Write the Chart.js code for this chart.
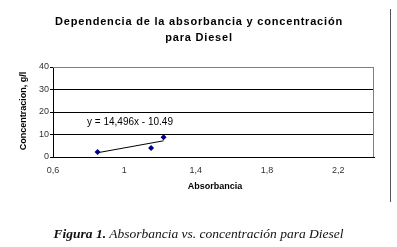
<!DOCTYPE html>
<html lang="es">
<head>
<meta charset="UTF-8">
<title>Absorbancia vs. concentración para Diesel</title>
<script src="https://cdn.jsdelivr.net/npm/chart.js"></script>
<style>
    body { margin: 0; background: #fff; }
    #caja { position: relative; width: 397px; height: 247px; }
    #grafico { position: absolute; left: 0; top: 0; }
    .pie {
        position: absolute; left: 0; width: 397px; top: 226px;
        text-align: center; font-family: "Liberation Serif", "DejaVu Serif", serif;
        font-style: italic; font-size: 13.5px; color: #111;
    }
</style>
</head>
<body>
<div id="caja">
    <canvas id="grafico" width="397" height="247"></canvas>
    <div class="pie"><b>Figura 1.</b> Absorbancia vs. concentración para Diesel</div>
</div>

<script>
    // datos
    const absorbancia = [0.85, 1.15, 1.22];
    const concentracion = [2.2, 4.0, 8.8];
    const tendenciaX = [0.85, 1.22];
    const tendenciaY = [1.9, 7.2];
    const ticksY = [0, 10, 20, 30, 40];
    const etiquetasX = ['0,6', '1', '1,4', '1,8', '2,2'];

    const puntos = absorbancia.map((x, i) => ({ x: x, y: concentracion[i] }));
    const linea = tendenciaX.map((x, i) => ({ x: x, y: tendenciaY[i] }));

    const textos = {
        id: 'textos',
        afterDatasetsDraw(chart) {
            const ctx = chart.ctx;
            const a = chart.chartArea;
            ctx.save();
            // borde del area de trazado (arriba y derecha)
            ctx.strokeStyle = '#808080';
            ctx.lineWidth = 1;
            ctx.beginPath();
            ctx.moveTo(a.left, a.top + 0.5);
            ctx.lineTo(a.right - 0.5, a.top + 0.5);
            ctx.lineTo(a.right - 0.5, a.bottom);
            ctx.stroke();
            // borde derecho del grafico
            ctx.strokeStyle = '#555';
            ctx.beginPath();
            ctx.moveTo(390.5, 9);
            ctx.lineTo(390.5, 202);
            ctx.stroke();

            ctx.fillStyle = '#000';
            ctx.textAlign = 'center';
            ctx.textBaseline = 'middle';
            ctx.font = 'bold 11px "Liberation Sans", Arial, sans-serif';
            ctx.letterSpacing = '0.8px';
            ctx.fillText('Dependencia de la absorbancia y concentración', 199, 22);
            ctx.fillText('para Diesel', 199, 38);
            ctx.letterSpacing = '0px';

            ctx.font = 'bold 9px "Liberation Sans", Arial, sans-serif';
            ctx.fillText('Absorbancia', 215, 187);
            ctx.save();
            ctx.translate(24, 111);
            ctx.rotate(-Math.PI / 2);
            ctx.fillText('Concentracion, g/l', 0, 0);
            ctx.restore();

            // ecuacion de la linea de tendencia
            ctx.font = '10px "Liberation Sans", Arial, sans-serif';
            ctx.fillStyle = '#fff';
            ctx.fillRect(83, 115, 94, 14);
            ctx.fillStyle = '#000';
            ctx.fillText('y = 14,496x - 10.49', 130, 122);
            ctx.restore();
        }
    };

    new Chart(document.getElementById('grafico'), {
        type: 'scatter',
        data: {
            datasets: [{
                data: puntos,
                pointStyle: 'rectRot',
                pointRadius: 3,
                backgroundColor: '#000080',
                borderColor: '#000080',
                borderWidth: 0
            }, {
                data: linea,
                showLine: true,
                borderColor: '#000',
                borderWidth: 1,
                pointRadius: 0
            }]
        },
        options: {
            responsive: false,
            animation: false,
            layout: { padding: { left: 0, top: 67, right: 23, bottom: 70 } },
            plugins: { legend: { display: false }, tooltip: { enabled: false } },
            scales: {
                x: {
                    min: 0.6, max: 2.4,
                    afterBuildTicks: s => { s.ticks = etiquetasX.map((t, i) => ({ value: 0.6 + i * 0.4 })); },
                    afterFit: s => { s.height = 20; },
                    grid: { display: false, drawTicks: false },
                    border: { color: '#000' },
                    ticks: {
                        padding: 8,
                        color: '#333',
                        font: { family: '"Liberation Sans", Arial', size: 9 },
                        callback: (v, i) => etiquetasX[i]
                    }
                },
                y: {
                    min: 0, max: 40,
                    afterBuildTicks: s => { s.ticks = ticksY.map(v => ({ value: v })); },
                    afterFit: s => { s.width = 53; },
                    grid: {
                        color: c => c.tick.value === 40 ? '#808080' : '#000',
                        tickLength: 3,
                        tickColor: '#000'
                    },
                    border: { color: '#000' },
                    ticks: {
                        padding: 1,
                        color: '#333',
                        font: { family: '"Liberation Sans", Arial', size: 9 }
                    }
                }
            }
        },
        plugins: [textos]
    });
</script>
</body>
</html>
